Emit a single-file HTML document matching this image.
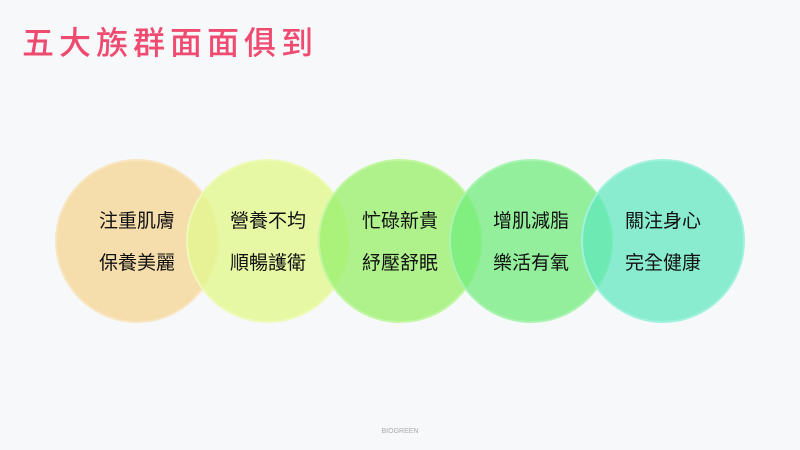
<!DOCTYPE html>
<html><head><meta charset="utf-8"><style>
html,body{margin:0;padding:0;background:#f7f8fa;}
body{width:800px;height:450px;position:relative;overflow:hidden;font-family:"Liberation Sans","Noto Sans CJK TC",sans-serif;}
.t{position:absolute;left:22px;top:18px;font-size:32px;letter-spacing:5px;color:#ef4a70;font-weight:500;}
.f{position:absolute;left:0;width:800px;top:428px;text-align:center;font-size:7px;color:#aaa;}
</style></head><body>
<div class="t">五大族群面面俱到</div>
<svg width="800" height="450" style="position:absolute;left:0;top:0">
<g stroke-width="2">
<circle cx="137" cy="241" r="81" fill="#f5dba8" fill-opacity="0.95" stroke="#f8e6c2"/>
<circle cx="268" cy="241" r="81" fill="#e2f790" fill-opacity="0.8" stroke="#eefab8"/>
<circle cx="400" cy="241" r="81" fill="#9cf070" fill-opacity="0.8" stroke="#c0f7a0"/>
<circle cx="531" cy="241" r="81" fill="#72ec7c" fill-opacity="0.75" stroke="#a8f4b0"/>
<circle cx="663" cy="241" r="81" fill="#5ee8bc" fill-opacity="0.72" stroke="#a0f2dc"/>
</g>
<g font-size="19" fill="#111" text-anchor="middle" font-family="Liberation Sans, Noto Sans CJK TC, sans-serif">
<text x="137" y="227">注重肌膚</text><text x="137" y="269">保養美麗</text>
<text x="268" y="227">營養不均</text><text x="268" y="269">順暢護衛</text>
<text x="400" y="227">忙碌新貴</text><text x="400" y="269">紓壓舒眠</text>
<text x="531" y="227">增肌減脂</text><text x="531" y="269">樂活有氧</text>
<text x="663" y="227">關注身心</text><text x="663" y="269">完全健康</text>
</g>
</svg>
<div class="f">BIOGREEN</div>
</body></html>
